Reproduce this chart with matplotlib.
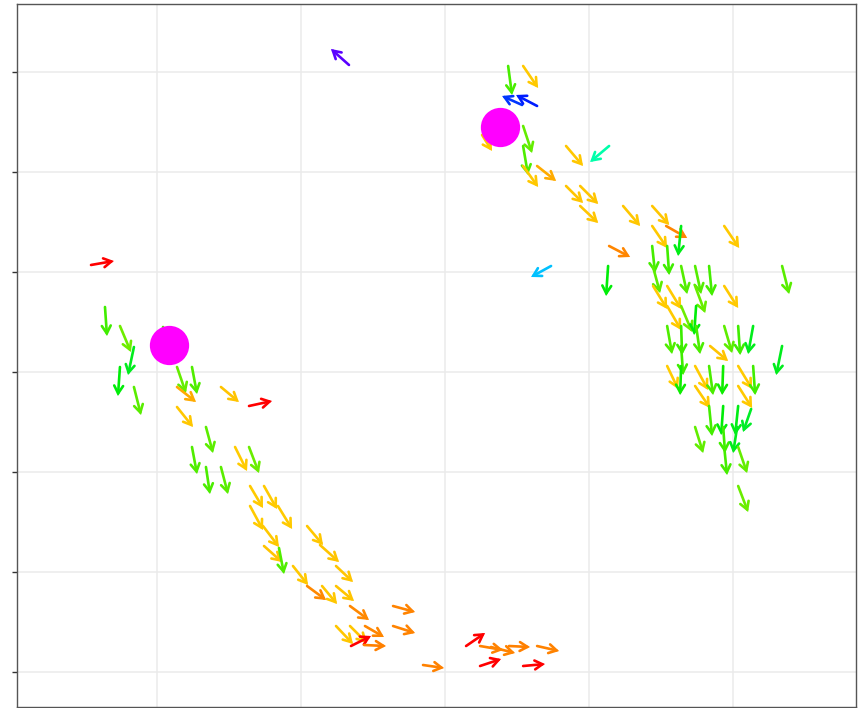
import colorsys
import numpy as np
import matplotlib
matplotlib.use("Agg")
import matplotlib.pyplot as plt
from matplotlib.patches import FancyArrowPatch

# arrow tails and heads (embedding coordinates)
x_start = [2.333, 0.542, 3.438, 3.542, 3.535, 3.639, 3.257, 3.542, 3.542, 3.542,
           3.639, 3.840, 4.139, 3.840, 3.938, 3.938, 4.236, 4.438, 4.438, 4.535,
           4.639, 4.938, 4.139, 3.736, 4.438, 4.542, 4.132, 4.444, 4.639, 4.736,
           4.833, 5.340, 4.444, 4.542, 4.736, 4.938, 4.542, 4.639, 4.743, 4.542,
           4.639, 4.743, 4.840, 4.938, 5.035, 5.139, 5.340, 4.639, 4.542, 4.639,
           4.736, 4.833, 4.931, 5.035, 5.139, 4.736, 5.035, 4.833, 4.931, 5.035,
           5.125, 4.736, 4.931, 5.028, 4.938, 5.035, 5.035,
           0.639, 0.743, 0.840, 0.743, 0.840, 1.042, 1.139, 1.243, 1.139, 1.444,
           1.639, 1.139, 1.340, 1.243, 1.542, 1.639, 1.340, 1.444, 1.646, 1.743,
           1.840, 1.646, 1.736, 2.042, 2.132, 1.743, 1.847, 2.243, 1.944, 2.042,
           2.146, 2.243, 2.340, 2.639, 2.444, 2.639, 2.243, 2.340, 2.347, 2.438,
           2.847, 3.146, 3.243, 3.319, 3.444, 3.639, 3.243, 3.542]
y_start = [6.07, 4.07, 6.06, 6.06, 5.67, 5.66, 5.37, 5.46, 5.26, 5.06,
           5.06, 5.26, 5.26, 4.86, 4.86, 4.66, 4.66, 4.66, 4.46, 4.46,
           4.46, 4.46, 4.26, 4.06, 4.26, 4.26, 4.06, 4.05, 4.06, 4.06,
           4.06, 4.06, 3.86, 3.86, 3.86, 3.86, 3.66, 3.66, 3.66, 3.46,
           3.46, 3.46, 3.26, 3.46, 3.46, 3.46, 3.26, 3.26, 3.06, 3.06,
           3.06, 3.06, 3.06, 3.06, 3.06, 2.86, 2.86, 2.66, 2.66, 2.66,
           2.63, 2.45, 2.45, 2.45, 2.25, 2.25, 1.86,
           3.65, 3.46, 3.25, 3.05, 2.85, 3.45, 3.05, 3.05, 2.85, 2.85,
           2.66, 2.65, 2.45, 2.25, 2.25, 2.25, 2.05, 2.05, 1.86, 1.86,
           1.66, 1.66, 1.46, 1.46, 1.27, 1.26, 1.24, 1.06, 1.06, 0.86,
           0.86, 0.86, 0.66, 0.66, 0.46, 0.46, 0.46, 0.46, 0.26, 0.27,
           0.07, 0.26, 0.26, 0.25, 0.26, 0.26, 0.06, 0.06]
x_end = [2.208, 0.701, 3.465, 3.646, 3.396, 3.493, 3.326, 3.604, 3.576, 3.646,
         3.771, 3.958, 4.007, 3.958, 4.063, 4.063, 4.354, 4.556, 4.542, 4.681,
         4.618, 5.042, 4.285, 3.597, 4.458, 4.556, 4.118, 4.493, 4.681, 4.778,
         4.854, 5.389, 4.542, 4.639, 4.806, 5.035, 4.639, 4.715, 4.729, 4.576,
         4.646, 4.771, 4.965, 4.993, 5.049, 5.104, 5.299, 4.653, 4.618, 4.632,
         4.826, 4.861, 4.924, 5.132, 5.153, 4.840, 5.132, 4.854, 4.917, 5.014,
         5.069, 4.792, 4.944, 5.000, 4.958, 5.097, 5.104,
         0.653, 0.819, 0.799, 0.729, 0.889, 1.069, 1.201, 1.278, 1.271, 1.569,
         1.799, 1.250, 1.389, 1.278, 1.625, 1.708, 1.368, 1.493, 1.736, 1.833,
         1.938, 1.736, 1.847, 2.153, 2.264, 1.868, 1.882, 2.361, 2.049, 2.174,
         2.250, 2.368, 2.472, 2.792, 2.576, 2.792, 2.361, 2.458, 2.486, 2.590,
         2.993, 3.278, 3.403, 3.486, 3.590, 3.792, 3.389, 3.694]
y_end = [6.23, 4.11, 5.77, 5.84, 5.76, 5.77, 5.21, 5.19, 4.97, 4.85,
         4.91, 5.06, 5.10, 4.69, 4.68, 4.49, 4.46, 4.47, 4.24, 4.34,
         4.16, 4.24, 4.15, 3.95, 3.99, 3.97, 3.76, 3.79, 3.78, 3.78,
         3.76, 3.78, 3.63, 3.63, 3.59, 3.64, 3.42, 3.40, 3.37, 3.18,
         3.17, 3.18, 3.11, 3.19, 3.17, 3.18, 2.97, 2.97, 2.83, 2.77,
         2.82, 2.77, 2.77, 2.83, 2.77, 2.64, 2.64, 2.36, 2.37, 2.37,
         2.40, 2.19, 2.19, 2.19, 1.97, 1.99, 1.60,
         3.36, 3.20, 2.97, 2.76, 2.57, 3.17, 2.79, 2.78, 2.70, 2.70,
         2.71, 2.45, 2.19, 1.98, 2.01, 1.99, 1.78, 1.78, 1.64, 1.63,
         1.43, 1.42, 1.25, 1.27, 1.10, 1.10, 0.98, 0.90, 0.87, 0.72,
         0.68, 0.71, 0.52, 0.60, 0.35, 0.39, 0.28, 0.29, 0.36, 0.26,
         0.04, 0.39, 0.22, 0.19, 0.25, 0.21, 0.13, 0.08]

# cluster centres
centre_x = [1.083, 3.382]
centre_y = [3.27, 5.45]

# direction (deg, screen space) -> hue (deg)
dir_angle = [-270, -222, -205, -152, -140, -110, -95, -88, -67, -65.5, -39, -37.2, -1, 1, 90]
dir_hue = [275, 262, 228, 197, 160, 130, 125, 105, 92, 48, 46, 32, 30, 0, 0]

fig = plt.figure(figsize=(8.66, 7.08), dpi=100)
ax = fig.add_axes([0.0196, 0.0021, 0.969, 0.9923])
ax.set_xlim(0.028, 5.854)
ax.set_ylim(-0.345, 6.68)

ax.set_xticks(range(1, 6))
ax.set_yticks(range(0, 7))
ax.grid(True, color="#ebebeb", lw=1.1)
ax.set_axisbelow(True)
ax.tick_params(axis="y", length=3.5, width=1, color="#333333", labelleft=False)
ax.tick_params(axis="x", length=0, labelbottom=False)
for sp in ax.spines.values():
    sp.set_color("#555555")
    sp.set_linewidth(1.0)

p0 = ax.transData.transform(np.column_stack([x_start, y_start]))
p1 = ax.transData.transform(np.column_stack([x_end, y_end]))
ang = np.degrees(np.arctan2(p1[:, 1] - p0[:, 1], p1[:, 0] - p0[:, 0]))
ang = np.where(ang > 90, ang - 360, ang)
hue = np.interp(ang, dir_angle, dir_hue)

for i in range(len(x_start)):
    h = hue[i] / 360.0
    v = 0.93 if 80 < hue[i] < 140 else 1.0
    col = colorsys.hsv_to_rgb(h, 1.0, v)
    arr = FancyArrowPatch((x_start[i], y_start[i]), (x_end[i], y_end[i]),
                          arrowstyle="->,head_length=0.55,head_width=0.32",
                          mutation_scale=10, lw=1.9, color=col,
                          capstyle="round", joinstyle="miter",
                          shrinkA=0, shrinkB=0, zorder=2)
    ax.add_patch(arr)

ax.scatter(centre_x, centre_y, s=800, color="#ff00ff", linewidths=0, zorder=3)

fig.savefig("out.png", dpi=100)
